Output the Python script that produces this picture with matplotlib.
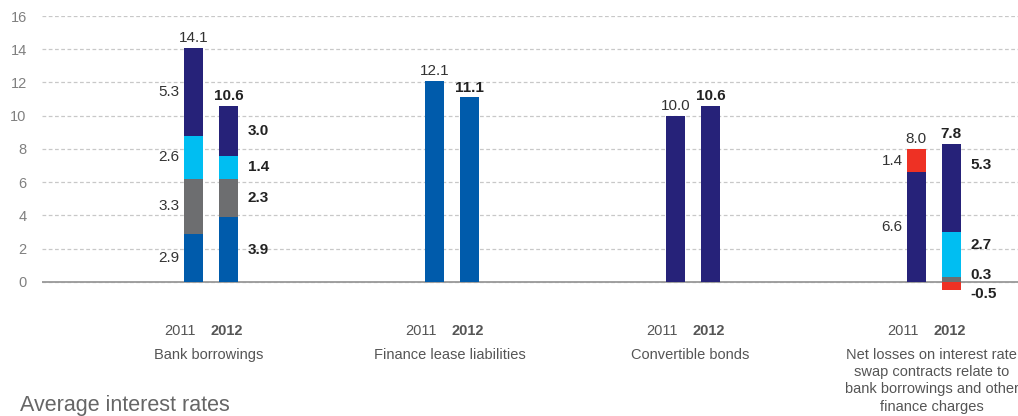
import matplotlib
matplotlib.use("Agg")
import matplotlib.pyplot as plt
import numpy as np

plt.rcParams["font.family"] = ["Liberation Sans", "DejaVu Sans"]

categories = ["Bank borrowings", "Finance lease liabilities",
              "Convertible bonds",
              "Net losses on interest rate\nswap contracts relate to\n"
              "bank borrowings and other\nfinance charges"]
years = ["2011", "2012"]

# one entry per bar: (category, year) in order 2011, 2012, 2011, 2012, ...
blue = [2.9, 3.9, 12.1, 11.1, 0.0, 0.0, 0.0, 0.0]
grey = [3.3, 2.3, 0.0, 0.0, 0.0, 0.0, 0.0, 0.3]
cyan = [2.6, 1.4, 0.0, 0.0, 0.0, 0.0, 0.0, 2.7]
navy = [5.3, 3.0, 0.0, 0.0, 10.0, 10.6, 6.6, 5.3]
red = [0.0, 0.0, 0.0, 0.0, 0.0, 0.0, 1.4, -0.5]
totals = [14.1, 10.6, 12.1, 11.1, 10.0, 10.6, 8.0, 7.8]

series = [(blue, "#005bab"), (grey, "#6d6e70"), (cyan, "#00bef2"),
          (navy, "#262279"), (red, "#ee3124")]

# hand-placed segment labels on the last bar (they don't sit at centres)
label_y = {(7, 3): 7.05, (7, 2): 2.2, (7, 1): 0.4, (7, 4): -0.75}

fig = plt.figure(figsize=(10.18, 4.16), dpi=100)
ax = fig.add_axes([42 / 1018, (416 - 298.6) / 416, 976 / 1018,
                   (298.6 - 16) / 416])

n = len(totals)
gi = np.arange(n) // 2
yr = np.arange(n) % 2
off = 0.0726
xs = gi + np.where(yr == 0, -off, off)
w = 0.079

pos_bottom = np.zeros(n)
neg_bottom = np.zeros(n)
nseg = sum((np.array(v) != 0).astype(int) for v, _ in series)
for k, (vals, col) in enumerate(series):
    vals = np.array(vals)
    bottom = np.where(vals >= 0, pos_bottom, neg_bottom)
    ax.bar(xs, vals, w, bottom=bottom, color=col, zorder=3)
    for i in range(n):
        if vals[i] == 0 or nseg[i] < 2:
            continue
        y = label_y.get((i, k), bottom[i] + vals[i] / 2)
        if yr[i] == 0:
            ax.text(xs[i] - w / 2 - 0.018, y, f"{vals[i]:.1f}",
                    ha="right", va="center", fontsize=11, color="#333333")
        else:
            ax.text(xs[i] + w / 2 + 0.04, y, f"{vals[i]:.1f}",
                    ha="left", va="center", fontsize=11, color="#222222",
                    fontweight="bold")
    pos_bottom += np.where(vals > 0, vals, 0)
    neg_bottom += np.where(vals < 0, vals, 0)

for i in range(n):
    ax.annotate(f"{totals[i]:.1f}", (xs[i], pos_bottom[i]),
                xytext=(0, 2), textcoords="offset points",
                ha="center", va="bottom", fontsize=11,
                color="#222222" if yr[i] else "#333333",
                fontweight="bold" if yr[i] else "normal")

for g, name in enumerate(categories):
    ax.text(g - off - 0.055, -2.95, years[0], ha="center", va="center",
            fontsize=10.5, color="#555555")
    ax.text(g + off - 0.005, -2.95, years[1], ha="center", va="center",
            fontsize=10.5, color="#555555", fontweight="bold")
    ax.text(g - 0.01, -3.95, name, ha="center", va="top", fontsize=10.5,
            color="#555555", linespacing=1.3, clip_on=False)

ax.set_xlim(-0.701, 3.349)
ax.set_ylim(-1, 16)
ax.set_yticks(np.arange(0, 17, 2))
ax.tick_params(axis="y", length=0, pad=11, labelsize=10.5,
               labelcolor="#808080")
ax.set_xticks([])
ax.grid(axis="y", ls=(0, (3, 2)), color="#c8c8c8", lw=0.9, zorder=0)
ax.axhline(0, color="#999999", lw=1.3, zorder=2)
for s in ax.spines.values():
    s.set_visible(False)

fig.text(20 / 1018, 1 - 405 / 416, "Average interest rates", ha="left",
         va="center", fontsize=15.5, color="#666666")

fig.savefig("out.png", dpi=100)
